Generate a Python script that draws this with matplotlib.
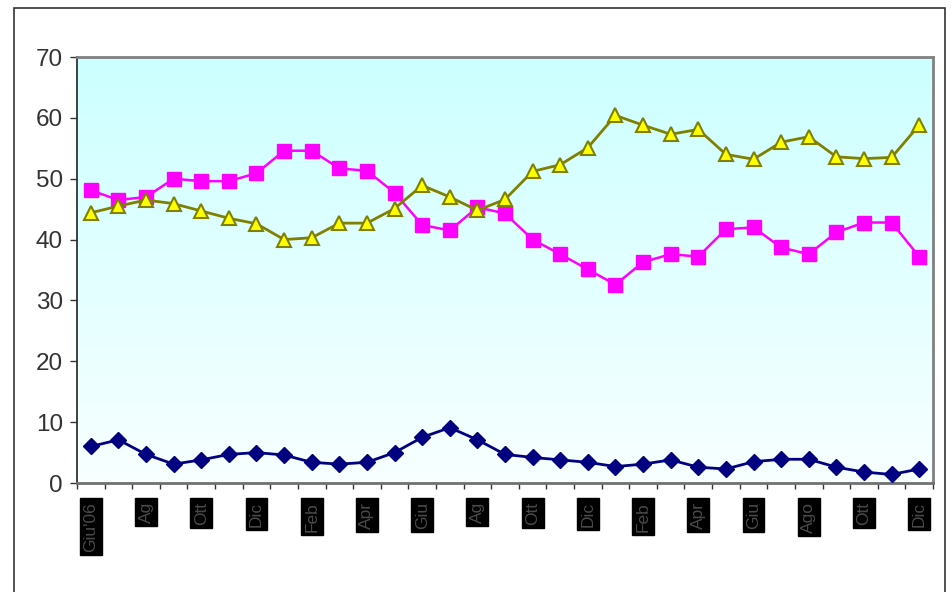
import numpy as np
import matplotlib
matplotlib.use("Agg")
import matplotlib.pyplot as plt
from matplotlib.patches import Rectangle

plt.rcParams["font.family"] = ["Liberation Sans", "DejaVu Sans"]

# monthly series, Giu 2006 .. Dic 2008
serie_blu = [6.0, 7.1, 4.7, 3.1, 3.8, 4.7, 5.0, 4.6, 3.4, 3.1, 3.4, 5.0, 7.5, 9.1, 7.1, 4.7,
             4.2, 3.8, 3.4, 2.7, 3.1, 3.8, 2.6, 2.3, 3.5, 3.9, 3.9, 2.6, 1.8, 1.4, 2.3]
serie_rosa = [48.1, 46.5, 47.0, 50.0, 49.6, 49.6, 50.9, 54.6, 54.6, 51.7, 51.3, 47.7, 42.4, 41.5, 45.3, 44.3,
              40.0, 37.6, 35.1, 32.6, 36.3, 37.6, 37.2, 41.7, 42.0, 38.7, 37.6, 41.2, 42.8, 42.8, 37.2]
serie_gialla = [44.4, 45.5, 46.5, 45.9, 44.7, 43.5, 42.6, 40.0, 40.3, 42.7, 42.7, 45.1, 48.9, 47.0, 44.8, 46.6,
                51.2, 52.3, 55.1, 60.4, 58.8, 57.3, 58.1, 54.0, 53.2, 56.0, 56.9, 53.6, 53.3, 53.5, 58.8]
etichette = ["Giu'06", "Ag", "Ott", "Dic", "Feb", "Apr", "Giu", "Ag",
             "Ott", "Dic", "Feb", "Apr", "Giu", "Ago", "Ott", "Dic"]

n = len(serie_blu)
x = np.arange(n)

fig = plt.figure(figsize=(9.52, 5.92), dpi=100)
ax = fig.add_axes([77 / 952, 1 - 483 / 592, (933 - 77) / 952, (483 - 57) / 592])

# light cyan fill fading to white
grad = np.linspace(0, 1, 256)[:, None]
top = np.array([204, 255, 255]) / 255
bot = np.array([248, 255, 255]) / 255
img = top[None, None, :] * (1 - grad[:, :, None]) + bot[None, None, :] * grad[:, :, None]
ax.imshow(img, extent=[0, 1, 0, 1], transform=ax.transAxes, aspect="auto", zorder=0)

ax.plot(x, serie_blu, color="#000080", lw=2, marker="D", ms=8.5,
        mfc="#000080", mec="#000080", zorder=3)
ax.plot(x, serie_rosa, color="#FF00FF", lw=1.8, marker="s", ms=10,
        mfc="#FF00FF", mec="#FF00FF", zorder=3)
ax.plot(x, serie_gialla, color="#808000", lw=2, marker="^", ms=10.5,
        mfc="#FFFF00", mec="#808000", mew=1.5, zorder=4)

ax.set_xlim(-0.5, n - 0.5)
ax.set_ylim(0, 70)
ax.set_yticks(range(0, 71, 10))
ax.tick_params(axis="y", direction="out", length=5, width=1, color="#333333",
               labelsize=17.5, labelcolor="#333333", pad=5)

# ticks between months, labels every other month
ax.set_xticks(np.arange(-0.5, n, 1))
ax.set_xticklabels([])
ax.tick_params(axis="x", which="major", direction="out", length=4.5, width=1, color="#333333")
ax.set_xticks(x[::2], minor=True)
ax.set_xticklabels(etichette, minor=True, rotation=90, va="top", ha="center")
ax.tick_params(axis="x", which="minor", length=0, pad=13.5, labelsize=12.5, labelcolor="#4a4a4a")
for lbl in ax.get_xticklabels(minor=True):
    lbl.set_bbox(dict(facecolor="black", edgecolor="black", pad=2.5))

for side in ("top", "right"):
    ax.spines[side].set_color("#808080")
    ax.spines[side].set_linewidth(2)
ax.spines["left"].set_color("#333333")
ax.spines["left"].set_linewidth(1.3)
ax.spines["bottom"].set_color("#707070")
ax.spines["bottom"].set_linewidth(2)

# outer chart frame
fig.add_artist(Rectangle((14 / 952, -0.1), (945 - 14) / 952, (592 - 8) / 592 + 0.1,
                         transform=fig.transFigure, fill=False,
                         edgecolor="#333333", lw=1.2))

fig.savefig("out.png", dpi=100)
